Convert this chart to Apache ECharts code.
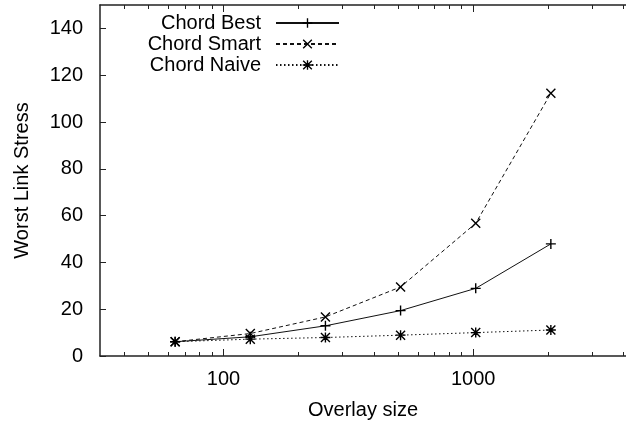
<!DOCTYPE html>
<html><head><meta charset="utf-8">
<script src="https://cdn.jsdelivr.net/npm/echarts@6/dist/echarts.min.js"></script>
<style>html,body{margin:0;padding:0;background:#fff}#c{width:626px;height:425px}</style>
</head><body><div id="c"></div>
<script>
const sizes = [64, 128, 256, 512, 1024, 2048];
const chordBest = [6.1, 8.2, 12.9, 19.4, 28.9, 47.9];
const chordSmart = [6.1, 9.6, 16.7, 29.5, 56.7, 112.3];
const chordNaive = [6.1, 7.2, 7.9, 8.9, 10.0, 11.1];
const seriesNames = ['Chord Best', 'Chord Smart', 'Chord Naive'];
const xMajorTicks = [100, 1000];
const xMinorTicks = [40, 50, 60, 70, 80, 90, 200, 300, 400, 500, 600, 700, 800, 900, 2000, 3000, 4000];
const xAxisName = 'Overlay size';
const yAxisName = 'Worst Link Stress';

const FONT = 'Liberation Sans';
const plus = 'path://M4.3,0h1.4v4.3h4.3v1.4h-4.3v4.3h-1.4v-4.3h-4.3v-1.4h4.3z';
const cross = 'path://M0,1L1,0L5,4L9,0L10,1L6,5L10,9L9,10L5,6L1,10L0,9L4,5Z';
const star = 'path://M0,1L1,0L5,4L9,0L10,1L6,5L10,9L9,10L5,6L1,10L0,9L4,5Z M4.3,0h1.4v4.3h4.3v1.4h-4.3v4.3h-1.4v-4.3h-4.3v-1.4h4.3z';

function pairs(vals){ return sizes.map((s,i)=>[s, vals[i]]); }
const axisCol = '#222';

function xAx(pos, ticks, len, labels, line){
  return {
    type: 'log', logBase: 10, min: 32, max: 4096, position: pos,
    gridIndex: 0,
    axisLine: {show: line, lineStyle: {color: axisCol, width: 1.5}},
    axisTick: {show: true, inside: true, length: len, customValues: ticks, lineStyle: {color: axisCol, width: 1}},
    axisLabel: labels ? {show: true, customValues: xMajorTicks, fontFamily: FONT, fontSize: 20, color: '#000', margin: 13,
      formatter: v => String(Math.round(v))} : {show: false},
    splitLine: {show: false},
    name: labels ? xAxisName : '', nameLocation: 'middle', nameGap: 44,
    nameTextStyle: {fontFamily: FONT, fontSize: 20, color: '#000'}
  };
}

const chart = echarts.init(document.getElementById('c'));
chart.setOption({
  animation: false,
  backgroundColor: '#fff',
  grid: {left: 100, top: 5, width: 533, height: 354, containLabel: false},
  xAxis: [
    xAx('bottom', xMajorTicks, 7, true, true),
    xAx('bottom', xMinorTicks, 4, false, false),
    xAx('top', xMajorTicks, 7, false, true),
    xAx('top', xMinorTicks, 4, false, false)
  ],
  yAxis: [{
    type: 'value', min: 0, max: 150, interval: 20,
    axisLine: {show: true, lineStyle: {color: axisCol, width: 1.5}},
    axisTick: {show: true, inside: true, length: 6, lineStyle: {color: axisCol}},
    axisLabel: {fontFamily: FONT, fontSize: 20, color: '#000', margin: 17, showMaxLabel: false},
    splitLine: {show: false},
    name: yAxisName, nameLocation: 'middle', nameGap: 68,
    nameTextStyle: {fontFamily: FONT, fontSize: 20, color: '#000'}
  }],
  legend: {
    orient: 'vertical', right: 286, top: 13, padding: 0,
    align: 'right', itemWidth: 63, itemHeight: 12, itemGap: 1,
    textStyle: {fontFamily: FONT, fontSize: 20, color: '#000', lineHeight: 14, padding: [0, 10, 0, 0]},
    data: seriesNames
  },
  series: [
    {name: seriesNames[0], type: 'line', data: pairs(chordBest), symbol: plus, symbolSize: 10,
     lineStyle: {color: '#111', width: 1, type: 'solid'}, itemStyle: {color: '#000'}},
    {name: seriesNames[1], type: 'line', data: pairs(chordSmart), symbol: cross, symbolSize: 10,
     lineStyle: {color: '#111', width: 1, type: [4, 3]}, itemStyle: {color: '#000'}},
    {name: seriesNames[2], type: 'line', data: pairs(chordNaive), symbol: star, symbolSize: 10,
     lineStyle: {color: '#111', width: 1, type: [1.5, 2.5]}, itemStyle: {color: '#000'}}
  ]
});
</script></body></html>
